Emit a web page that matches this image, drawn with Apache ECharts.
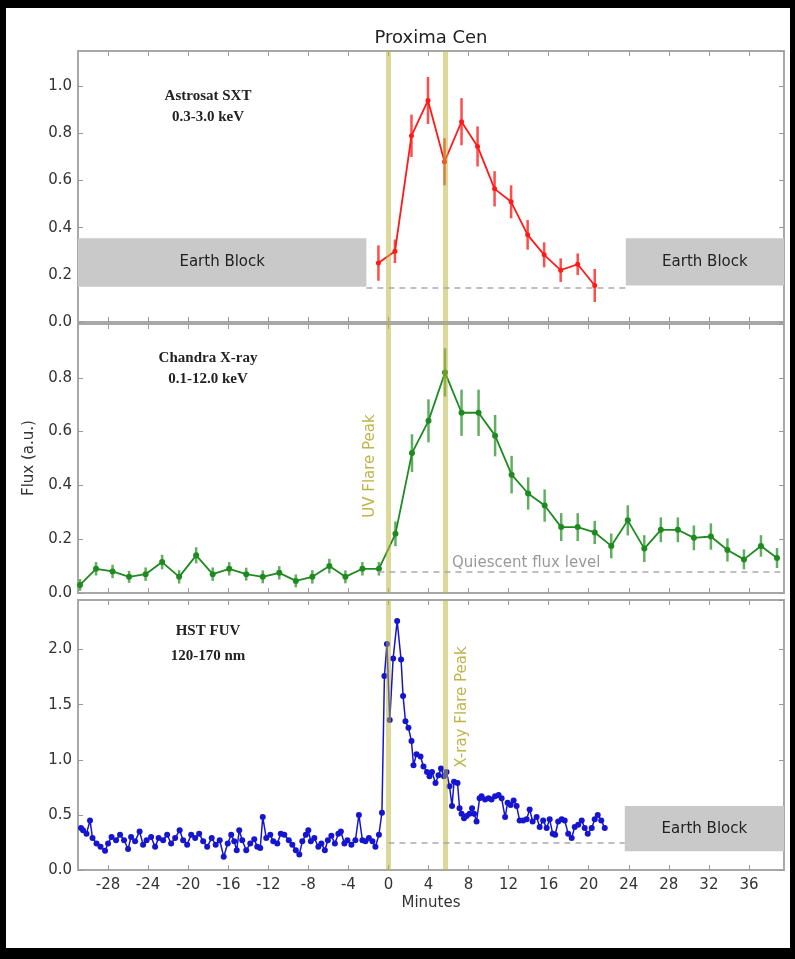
<!DOCTYPE html>
<html>
<head>
<meta charset="utf-8">
<script src="https://cdn.jsdelivr.net/npm/echarts@6/dist/echarts.min.js"></script>
<style>
  html, body { margin: 0; padding: 0; background: #000; }
  #paper { position: absolute; left: 6px; top: 8px; width: 784px; height: 940px; background: #fff; }
  #chart { position: absolute; left: 0; top: 0; width: 795px; height: 959px; }
</style>
</head>
<body>
<div id="paper"></div>
<div id="chart"></div>
<script>
// x axis ticks (minutes)
var minuteTicks = [-28, -24, -20, -16, -12, -8, -4, 0, 4, 8, 12, 16, 20, 24, 28, 32, 36];

// Astrosat SXT 0.3-3.0 keV
var sxtTime = [-1.0, 0.65, 2.3, 3.95, 5.6, 7.3, 8.9, 10.6, 12.25, 13.9, 15.55, 17.2, 18.9, 20.6];
var sxtFlux = [0.25, 0.30, 0.79, 0.94, 0.68, 0.85, 0.745, 0.565, 0.51, 0.37, 0.285, 0.22, 0.245, 0.155];
var sxtErr  = [0.075, 0.05, 0.09, 0.10, 0.10, 0.10, 0.085, 0.075, 0.07, 0.063, 0.053, 0.05, 0.046, 0.07];

// Chandra 0.1-12.0 keV
var xrayTime = [-30.8, -29.2, -27.55, -25.9, -24.25, -22.6, -20.9, -19.2, -17.55, -15.9, -14.2, -12.55, -10.9, -9.25, -7.6, -5.9, -4.3, -2.6, -0.95,
  0.7, 2.35, 4.0, 5.65, 7.3, 9.0, 10.65, 12.3, 13.95, 15.6, 17.25, 18.9, 20.6, 22.25, 23.9, 25.55, 27.2, 28.9, 30.5, 32.2, 33.85, 35.5, 37.2, 38.8];
var xrayFlux = [0.03, 0.09, 0.08, 0.06, 0.07, 0.115, 0.06, 0.14, 0.07, 0.09, 0.07, 0.06, 0.075, 0.045, 0.06, 0.10, 0.06, 0.09, 0.09,
  0.22, 0.52, 0.64, 0.82, 0.67, 0.67, 0.585, 0.44, 0.37, 0.325, 0.245, 0.245, 0.225, 0.175, 0.27, 0.165, 0.235, 0.235, 0.205, 0.21, 0.16, 0.125, 0.175, 0.13];
var xrayErr = [0.022, 0.025, 0.025, 0.022, 0.025, 0.027, 0.025, 0.03, 0.025, 0.025, 0.024, 0.024, 0.025, 0.024, 0.025, 0.027, 0.024, 0.025, 0.025,
  0.046, 0.07, 0.08, 0.09, 0.086, 0.086, 0.077, 0.07, 0.06, 0.06, 0.052, 0.052, 0.043, 0.046, 0.056, 0.05, 0.046, 0.046, 0.046, 0.049, 0.043, 0.037, 0.04, 0.037];

// HST FUV 120-170 nm
var fuvTime = [-30.7, -30.5, -30.15, -29.8, -29.55, -29.15, -28.75, -28.3, -28.0, -27.65, -27.2, -26.8, -26.4, -26.0, -25.7, -25.3, -24.85, -24.5, -24.15, -23.7,
  -23.3, -22.95, -22.5, -22.1, -21.7, -21.3, -20.85, -20.5, -20.1, -19.7, -19.3, -18.9, -18.5, -18.1, -17.65, -17.25, -16.85, -16.45, -16.05, -15.7,
  -15.4, -15.15, -14.9, -14.6, -14.2, -13.8, -13.4, -13.1, -12.8, -12.55, -12.2, -11.8, -11.5, -11.1, -10.75, -10.4, -9.95, -9.6, -9.25, -8.9,
  -8.6, -8.25, -8.0, -7.75, -7.4, -7.0, -6.7, -6.35, -6.05, -5.7, -5.35, -5.0, -4.75, -4.4, -4.1, -3.7, -3.3, -2.95, -2.6, -2.3,
  -1.95, -1.6, -1.3, -0.95, -0.65, -0.4, -0.15, 0.13, 0.47, 0.87, 1.26, 1.46, 1.7, 2.0, 2.3, 2.5, 2.8, 3.2, 3.5, 3.85,
  4.1, 4.35, 4.7, 5.0, 5.25, 5.55, 5.8, 6.1, 6.35, 6.55, 6.9, 7.1, 7.3, 7.55, 7.8, 8.1, 8.35, 8.55, 8.8, 9.1,
  9.3, 9.65, 10.0, 10.3, 10.65, 11.0, 11.3, 11.65, 11.9, 12.2, 12.5, 12.8, 13.1, 13.45, 13.8, 14.1, 14.4, 14.8, 15.1, 15.45,
  15.8, 16.1, 16.4, 16.65, 16.95, 17.3, 17.6, 17.95, 18.3, 18.6, 18.95, 19.3, 19.6, 19.9, 20.3, 20.6, 20.9, 21.25, 21.6];
var fuvFlux = [0.38, 0.36, 0.33, 0.45, 0.29, 0.24, 0.21, 0.175, 0.24, 0.30, 0.27, 0.32, 0.27, 0.19, 0.30, 0.26, 0.35, 0.23, 0.27, 0.30,
  0.21, 0.29, 0.27, 0.32, 0.24, 0.29, 0.36, 0.27, 0.23, 0.32, 0.29, 0.33, 0.26, 0.21, 0.29, 0.23, 0.27, 0.12, 0.24, 0.32,
  0.26, 0.18, 0.36, 0.27, 0.18, 0.24, 0.28, 0.21, 0.20, 0.48, 0.29, 0.32, 0.26, 0.24, 0.33, 0.32, 0.27, 0.23, 0.18, 0.14,
  0.26, 0.32, 0.36, 0.26, 0.29, 0.21, 0.24, 0.18, 0.27, 0.31, 0.24, 0.33, 0.35, 0.24, 0.27, 0.23, 0.27, 0.50, 0.27, 0.26,
  0.29, 0.26, 0.21, 0.32, 0.52, 1.76, 2.05, 1.36, 1.92, 2.26, 1.91, 1.58, 1.35, 1.29, 1.17, 0.95, 1.05, 1.03, 0.94, 0.89,
  0.85, 0.89, 0.79, 0.86, 0.92, 0.85, 0.89, 0.76, 0.58, 0.80, 0.79, 0.56, 0.51, 0.47, 0.49, 0.51, 0.56, 0.51, 0.44, 0.65,
  0.67, 0.64, 0.65, 0.64, 0.67, 0.68, 0.65, 0.48, 0.61, 0.59, 0.63, 0.58, 0.45, 0.45, 0.46, 0.55, 0.44, 0.48, 0.39, 0.45,
  0.38, 0.46, 0.33, 0.32, 0.44, 0.46, 0.45, 0.33, 0.29, 0.39, 0.41, 0.45, 0.38, 0.33, 0.38, 0.46, 0.50, 0.45, 0.38];

// reference markers
var uvPeak = 0;
var xrayPeak = 5.7;
var sxtQuiet = 0.145, xrayQuiet = 0.08, fuvQuiet = 0.25;
var earthLeft = [-31, -2.2, 0.15, 0.355];
var earthRight = [23.7, 39.5, 0.155, 0.355];
var earthFuv = [23.6, 39.5, 0.17, 0.58];

var X_MIN = -31, X_MAX = 39.5;
var grids = [
  { left: 78, right: 11, top: 51, height: 271 },
  { left: 78, right: 11, top: 324, height: 269 },
  { left: 78, right: 11, top: 600, height: 270 }
];
var yMax = [1.15, 1.0, 2.45];
var yStep = [0.2, 0.2, 0.5];

var tickFont = { fontFamily: 'DejaVu Sans', fontSize: 15, color: '#333' };
var frameColor = '#a8a8a8';
var peakLine = 'rgba(186,177,51,0.5)';
var tickStyle = { color: '#999' };

function pairs(t, v) { return t.map(function (x, i) { return [x, v[i]]; }); }
function bars(t, v, e) { return t.map(function (x, i) { return [x, v[i] - e[i], v[i] + e[i]]; }); }

var xAxes = [], yAxes = [];
grids.forEach(function (g, i) {
  ['bottom', 'top'].forEach(function (pos) {
    xAxes.push({
      type: 'value', gridIndex: i, min: X_MIN, max: X_MAX, position: pos,
      axisLine: { show: false, onZero: false }, splitLine: { show: false },
      axisTick: { show: true, inside: true, length: 5, customValues: minuteTicks, lineStyle: tickStyle },
      axisLabel: { show: i === 2 && pos === 'bottom', customValues: minuteTicks, margin: 8,
        fontFamily: tickFont.fontFamily, fontSize: tickFont.fontSize, color: tickFont.color }
    });
  });
  ['left', 'right'].forEach(function (pos) {
    yAxes.push({
      type: 'value', gridIndex: i, min: 0, max: yMax[i], interval: yStep[i], position: pos,
      axisLine: { show: false, onZero: false }, splitLine: { show: false },
      axisTick: { show: true, inside: true, length: 5, lineStyle: tickStyle },
      axisLabel: { show: pos === 'left', showMaxLabel: false, margin: 6,
        fontFamily: tickFont.fontFamily, fontSize: tickFont.fontSize, color: tickFont.color,
        formatter: function (v) { return v.toFixed(1); } }
    });
  });
});

function errSeries(idx, data, color, width) {
  return {
    type: 'custom', xAxisIndex: idx * 2, yAxisIndex: idx * 2, data: data, silent: true, z: 3,
    encode: { x: 0, y: [1, 2] },
    renderItem: function (params, api) {
      var a = api.coord([api.value(0), api.value(1)]);
      var b = api.coord([api.value(0), api.value(2)]);
      return { type: 'line', shape: { x1: a[0], y1: a[1], x2: b[0], y2: b[1] }, style: { stroke: color, lineWidth: width } };
    }
  };
}

function peakMarks(quiet, qFrom, qTo) {
  return {
    silent: true, symbol: 'none', label: { show: false },
    data: [
      { xAxis: uvPeak, lineStyle: { color: peakLine, width: 5, type: 'solid' } },
      { xAxis: xrayPeak, lineStyle: { color: peakLine, width: 5, type: 'solid' } },
      [{ coord: [qFrom, quiet], lineStyle: { color: '#aaa', width: 1.5, type: [6, 5] } }, { coord: [qTo, quiet] }]
    ]
  };
}

function earthArea(boxes) {
  return {
    silent: true,
    itemStyle: { color: '#c9c9c9' },
    label: { show: true, position: 'inside', color: '#222', fontFamily: 'DejaVu Sans', fontSize: 15 },
    data: boxes.map(function (b) {
      return [{ name: 'Earth Block', coord: [b[0], b[2]] }, { coord: [b[1], b[3]] }];
    })
  };
}

var panelText = { fontFamily: 'Liberation Serif', fontWeight: 'bold', fontSize: 15, fill: '#222', textAlign: 'center' };
function label(x, y, text) {
  return { type: 'text', x: x, y: y, style: Object.assign({ text: text }, panelText) };
}

var option = {
  animation: false,
  backgroundColor: 'transparent',
  grid: grids.map(function (g) {
    return Object.assign({ show: true, borderColor: frameColor, borderWidth: 2, backgroundColor: 'transparent' }, g);
  }),
  xAxis: xAxes,
  yAxis: yAxes,
  graphic: [
    { type: 'text', x: 431, y: 38, style: { text: 'Proxima Cen', fontFamily: 'DejaVu Sans', fontSize: 18, fill: '#222', textAlign: 'center', textVerticalAlign: 'middle' } },
    { type: 'text', x: 431, y: 903, style: { text: 'Minutes', fontFamily: 'DejaVu Sans', fontSize: 15, fill: '#333', textAlign: 'center', textVerticalAlign: 'middle' } },
    { type: 'text', x: 29, y: 458, rotation: Math.PI / 2, style: { text: 'Flux (a.u.)', fontFamily: 'DejaVu Sans', fontSize: 15, fill: '#333', textAlign: 'center', textVerticalAlign: 'middle' } },
    label(208, 89, 'Astrosat SXT'), label(208, 110, '0.3-3.0 keV'),
    label(208, 351, 'Chandra X-ray'), label(208, 372, '0.1-12.0 keV'),
    label(208, 624, 'HST FUV'), label(208, 649, '120-170 nm'),
    { type: 'text', x: 370, y: 466, rotation: Math.PI / 2, style: { text: 'UV Flare Peak', fontFamily: 'DejaVu Sans', fontSize: 15, fill: '#bdb54a', textAlign: 'center', textVerticalAlign: 'middle' } },
    { type: 'text', x: 462, y: 707, rotation: Math.PI / 2, style: { text: 'X-ray Flare Peak', fontFamily: 'DejaVu Sans', fontSize: 15, fill: '#bdb54a', textAlign: 'center', textVerticalAlign: 'middle' } },
    { type: 'text', x: 452, y: 563, style: { text: 'Quiescent flux level', fontFamily: 'DejaVu Sans', fontSize: 15, fill: '#999', textAlign: 'left', textVerticalAlign: 'middle' } }
  ],
  series: [
    errSeries(0, bars(sxtTime, sxtFlux, sxtErr), 'rgba(255,0,0,0.7)', 2.5),
    {
      type: 'line', xAxisIndex: 0, yAxisIndex: 0, data: pairs(sxtTime, sxtFlux),
      symbol: 'circle', symbolSize: 5, lineStyle: { color: '#ff1a1a', width: 1.8 }, itemStyle: { color: '#ff1a1a' },
      markLine: peakMarks(sxtQuiet, -2.2, 23.7),
      markArea: earthArea([earthLeft, earthRight])
    },
    errSeries(1, bars(xrayTime, xrayFlux, xrayErr), 'rgba(30,140,30,0.7)', 2.5),
    {
      type: 'line', xAxisIndex: 2, yAxisIndex: 2, data: pairs(xrayTime, xrayFlux),
      symbol: 'circle', symbolSize: 6, lineStyle: { color: '#1f8a1f', width: 1.8 }, itemStyle: { color: '#1f8a1f' },
      markLine: peakMarks(xrayQuiet, -1, X_MAX)
    },
    {
      type: 'line', xAxisIndex: 4, yAxisIndex: 4, data: pairs(fuvTime, fuvFlux),
      symbol: 'circle', symbolSize: 6, lineStyle: { color: '#1515d0', width: 1.5 }, itemStyle: { color: '#1515d0' },
      markLine: peakMarks(fuvQuiet, 0, 23.6),
      markArea: earthArea([earthFuv])
    }
  ]
};

var myChart = echarts.init(document.getElementById('chart'));
myChart.setOption(option);
window.addEventListener('resize', function () { myChart.resize(); });
</script>
</body>
</html>
